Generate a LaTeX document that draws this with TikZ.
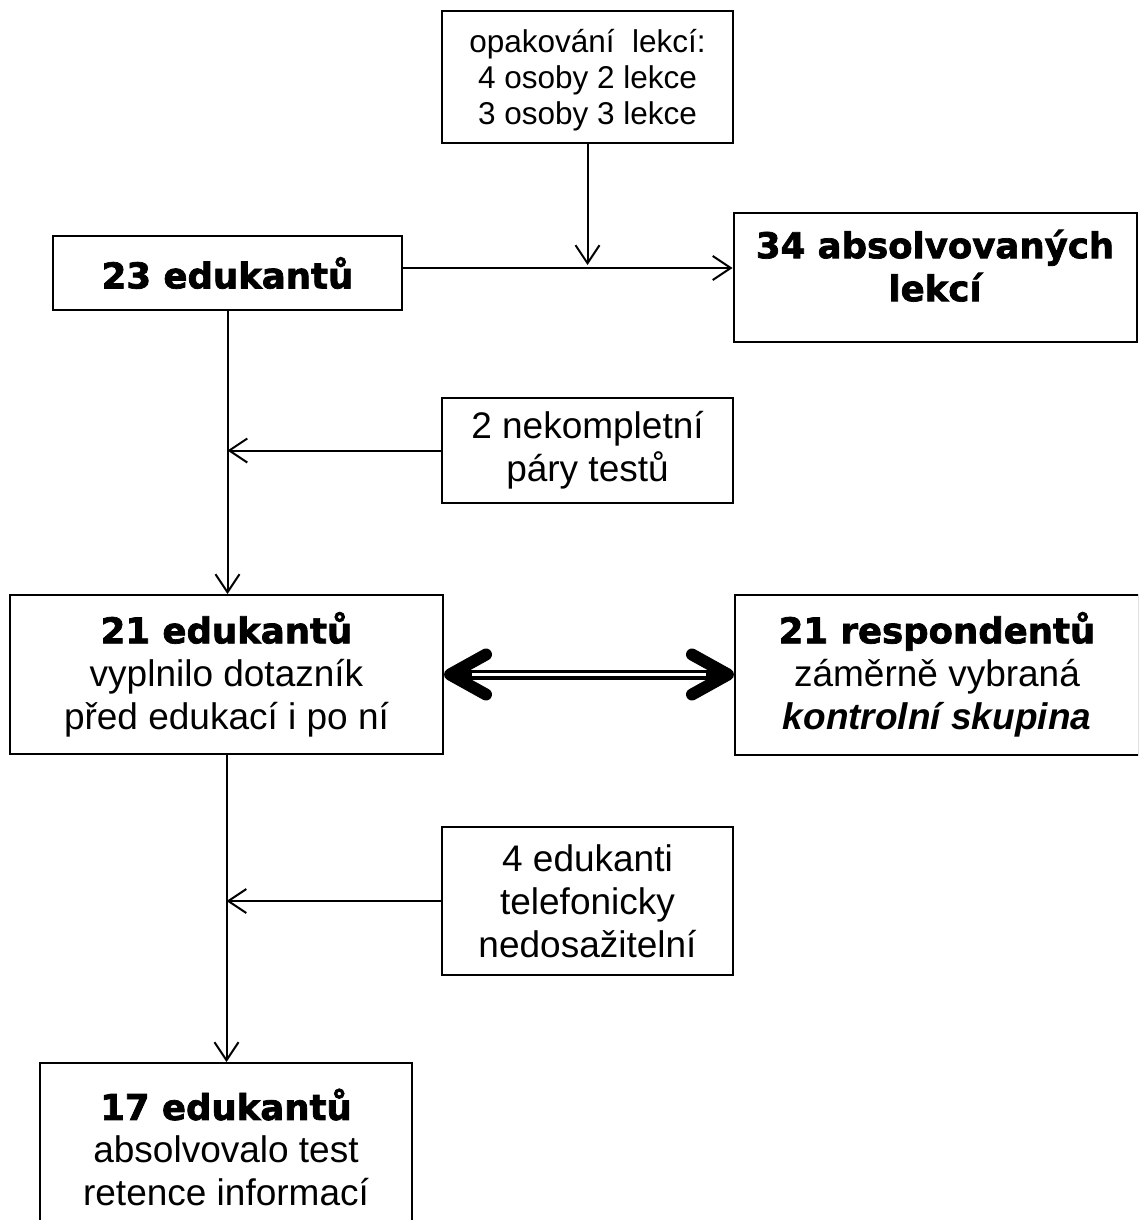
\documentclass[tikz,border=0pt]{standalone}
\usepackage{fontspec}
\setmainfont{Liberation Sans}
\newfontfamily\heavyfont{DejaVu Sans Bold}[FakeBold=2]
\usepackage{tikz}
\usetikzlibrary{arrows.meta, positioning}
\tikzset{
        flow box/.style 2 args={
		draw,
		line width=2pt,
		align=center,
		inner sep=0pt,
		minimum width={#1},
		minimum height={#2},
		font=\fontsize{37}{43}\selectfont,
	  },
  		flow arrow/.style={
    	line width=2pt,
    	-{Straight Barb[length=18pt, width=24pt]},
      },
  		twin arrow/.style={
    	line width=10pt,
    	{Straight Barb[length=36pt, width=40pt, line width=12pt 0, round]}-{Straight Barb[length=36pt, width=40pt, line width=12pt 0, round]},
      }
  	}
\newcommand{\heavy}[1]{{\heavyfont\fontsize{35.5}{41}\selectfont #1}}

\begin{document}
\begin{tikzpicture}[x=1pt, y=-1pt, node distance=290pt]
    \useasboundingbox (0,0) rectangle (1138,1220);
    \clip (0,0) rectangle (1138,1220);
    \node [flow box={291pt}{132pt}, font=\fontsize{31.5}{36}\selectfont] (opak) at (587.5,77) {\rule{0pt}{30pt}opakování\ \ lekcí:\\4 osoby 2 lekce\\3 osoby 3 lekce};
    \node [flow box={349pt}{74pt}] (e23) at (227.5,273) {\heavy{23 edukantů}};
    \node [flow box={403pt}{129pt}] (l34) at (935,277.5) {\heavy{34 absolvovaných}\\\heavy{lekcí}\rule[-24pt]{0pt}{24pt}};
    \node [flow box={291pt}{105pt}] (n2) at (587.5,450.5) {2 nekompletní\\páry testů};
    \node [flow box={433pt}{159pt}] (e21) at (226.5,674.5) {\heavy{21 edukantů}\\vyplnilo dotazník\\před edukací i po ní};
    \node [flow box={404pt}{160pt}, right=of e21] (r21) {\heavy{21 respondentů}\\záměrně vybraná\\\textbf{\textit{kontrolní skupina}}};
    \node [flow box={291pt}{148pt}] (e4) at (587.5,901) {4 edukanti\\telefonicky\\nedosažitelní};
    \node [flow box={372pt}{169pt}] (e17) at (226,1147.5) {\heavy{17 edukantů}\\absolvovalo test\\retence informací};
    \coordinate (hub) at (587.5,268);
    \draw [flow arrow] (e23.east |- hub) -- (hub -| l34.west);
    \draw [flow arrow, shorten >=3pt] (opak.south) -- (hub);
    \draw [flow arrow] (e23.south) -- (e23.south |- e21.north);
    \draw [flow arrow] (n2.west) -- (n2.west -| e23.south);
    \draw [flow arrow] (e21.south) -- (e21.south |- e17.north);
    \draw [flow arrow] (e4.west) -- (e4.west -| e21.south);
    \draw [twin arrow] (e21.east) -- (r21.west);
    \draw [white, line width=3pt, shorten <=28pt, shorten >=28pt] (e21.east) -- (r21.west);
  \end{tikzpicture}
\end{document}
